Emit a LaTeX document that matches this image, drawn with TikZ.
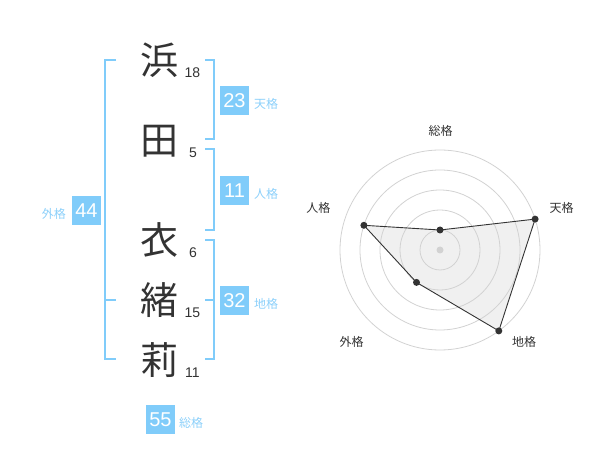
\documentclass[tikz,border=0pt]{standalone}
\usepackage{fontspec}
\setmainfont{Liberation Sans}
\newfontfamily\jp{Noto Sans CJK JP}
\definecolor{sky}{RGB}{128,204,250}
\definecolor{ink}{RGB}{51,51,51}
\definecolor{lbl}{RGB}{140,208,250}
\definecolor{ringc}{RGB}{210,210,210}
\definecolor{areac}{RGB}{240,240,240}
\begin{document}
\begin{tikzpicture}[x=1pt,y=-1pt,
 kanji/.style={font=\jp\fontsize{38}{38}\selectfont, text=ink, inner sep=0pt},
 strokes/.style={font=\fontsize{14}{14}\selectfont, text=ink, inner sep=0pt},
 badge/.style={fill=sky, text=white, minimum size=29pt, inner sep=0pt, font=\fontsize{20}{20}\selectfont},
 badgelbl/.style={font=\jp\fontsize{12}{12}\selectfont, text=lbl, inner sep=0pt},
 brk/.style={draw=sky, line width=2pt},
 ring/.style={draw=ringc, line width=0.8pt},
 axislbl/.style={font=\jp\fontsize{12}{12}\selectfont, text=ink, inner sep=0pt},
 dot/.style={circle, fill=ink, inner sep=0pt, minimum size=7pt},
]
\useasboundingbox (0,0) rectangle (600,470);
% characters
\node[kanji] (c1) at (159.5,60) {浜};
\node[kanji] (c2) at (159.5,141) {田};
\node[kanji] (c3) at (159.5,240) {衣};
\node[kanji] (c4) at (159.5,300) {緒};
\node[kanji] (c5) at (159.5,360) {莉};
\node[strokes] (s1) at (192.5,72.5) {18};
\node[strokes] (s2) at (193,152.5) {5};
\node[strokes] (s3) at (193,253) {6};
\node[strokes] (s4) at (192.5,312.5) {15};
\node[strokes] (s5) at (192.5,372.5) {11};
% left bracket
\coordinate (la) at (116,60);
\coordinate (lb) at (105,60);
\coordinate (lc) at (105,359);
\coordinate (ld) at (116,359);
\coordinate (le) at (105,300);
\coordinate (lf) at (116,300);
\draw[brk] (la) -- (lb) -- (lc) -- (ld);
\draw[brk] (le) -- (lf);
% right brackets
\draw[brk] (205,60) -- (214,60) -- (214,139) -- (205,139);
\draw[brk] (205,149) -- (214,149) -- (214,230) -- (205,230);
\draw[brk] (205,240) -- (214,240) -- (214,359) -- (205,359);
\draw[brk] (205,300) -- (214,300);
% badges
\node[badge] (b1) at (234.5,100.5) {23};
\node[badgelbl, anchor=west] (l1) at (254,104) {天格};
\node[badge] (b2) at (234.5,190.5) {11};
\node[badgelbl, anchor=west] (l2) at (254,194) {人格};
\node[badge] (b3) at (234.5,300.5) {32};
\node[badgelbl, anchor=west] (l3) at (254,304) {地格};
\node[badge] (b4) at (86.5,210.5) {44};
\node[badgelbl, anchor=east] (l4) at (66,214) {外格};
\node[badge] (b5) at (160.5,419.5) {55};
\node[badgelbl, anchor=west] (l5) at (179,423) {総格};
% radar
\coordinate (o) at (440,250);
\coordinate (pt) at (535.1,219.1);
\coordinate (pc) at (498.8,330.9);
\coordinate (pg) at (416.5,282.4);
\coordinate (pj) at (363.9,225.3);
\coordinate (ps) at (440,230);
\fill[areac] (ps) -- (pt) -- (pc) -- (pg) -- (pj) -- cycle;
\foreach \r in {20,40,60,80,100} \draw[ring] (o) circle (\r);
\draw[ink, line width=0.9pt] (ps) -- (pt) -- (pc) -- (pg) -- (pj) -- cycle;
\node[dot, fill=ringc] (dc) at (o) {};
\node[dot] (d1) at (ps) {};
\node[dot] (d2) at (pt) {};
\node[dot] (d3) at (pc) {};
\node[dot] (d4) at (pg) {};
\node[dot] (d5) at (pj) {};
\node[axislbl] (a1) at (440.7,130.7) {総格};
\node[axislbl] (a2) at (561.7,208.3) {天格};
\node[axislbl] (a3) at (318.3,208.3) {人格};
\node[axislbl] (a4) at (351.7,341.7) {外格};
\node[axislbl] (a5) at (524,341.7) {地格};
\end{tikzpicture}
\end{document}
